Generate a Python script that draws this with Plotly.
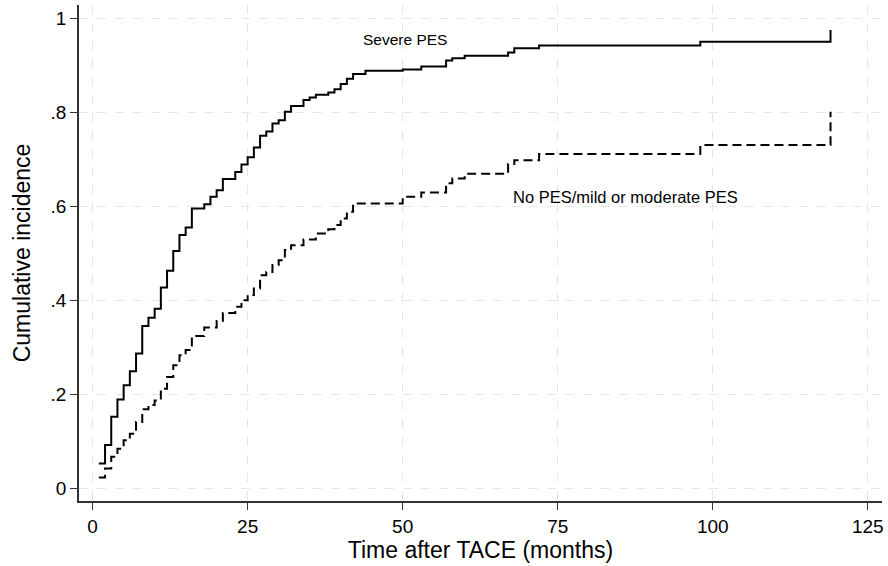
import plotly.graph_objects as go

# Severe PES
severe_t = [1, 2, 3, 4, 5, 6, 7, 8, 9, 10, 11, 12, 13, 14, 15, 16, 18, 19, 20, 21,
            23, 24, 25, 26, 27, 28, 29, 30, 31, 32, 34, 35, 36, 38, 39, 40, 41, 42,
            44, 50, 53, 57, 58, 60, 67, 68, 72, 98, 119]
severe_y = [0.053, 0.092, 0.152, 0.189, 0.219, 0.249, 0.287, 0.345, 0.363, 0.382,
            0.427, 0.463, 0.505, 0.539, 0.555, 0.595, 0.604, 0.620, 0.634, 0.658,
            0.673, 0.689, 0.704, 0.725, 0.750, 0.759, 0.776, 0.783, 0.801, 0.813,
            0.826, 0.831, 0.837, 0.842, 0.849, 0.860, 0.871, 0.881, 0.888, 0.891,
            0.897, 0.910, 0.915, 0.920, 0.927, 0.936, 0.942, 0.950, 0.975]

# No PES / mild or moderate PES
mild_t = [1, 2, 3, 4, 5, 6, 7, 8, 9, 10, 11, 12, 13, 14, 15, 16, 18, 20, 21, 23,
          24, 25, 26, 27, 28, 29, 30, 31, 32, 34, 36, 38, 39, 40, 41, 42, 50, 53,
          57, 58, 60, 67, 68, 72, 98, 119]
mild_y = [0.023, 0.042, 0.067, 0.084, 0.102, 0.116, 0.141, 0.168, 0.177, 0.187,
          0.212, 0.237, 0.262, 0.283, 0.294, 0.324, 0.342, 0.356, 0.373, 0.386,
          0.400, 0.411, 0.425, 0.453, 0.460, 0.475, 0.485, 0.507, 0.517, 0.529,
          0.542, 0.551, 0.560, 0.574, 0.588, 0.606, 0.620, 0.629, 0.649, 0.659,
          0.669, 0.690, 0.698, 0.711, 0.730, 0.801]

x_ticks = [0, 25, 50, 75, 100, 125]
y_ticks = [0, 0.2, 0.4, 0.6, 0.8, 1]
y_ticktext = ["0", ".2", ".4", ".6", ".8", "1"]

FONT = "Liberation Sans, Arial, Helvetica, sans-serif"

fig = go.Figure()
fig.add_trace(go.Scatter(x=severe_t, y=severe_y, mode="lines", line_shape="hv",
                         line=dict(color="black", width=2), showlegend=False))
fig.add_trace(go.Scatter(x=mild_t, y=mild_y, mode="lines", line_shape="hv",
                         line=dict(color="black", width=2, dash="9px,5px"),
                         showlegend=False))

fig.add_annotation(x=50.4, y=0.954, text="Severe PES", showarrow=False,
                   font=dict(family=FONT, size=15.5, color="black"))
fig.add_annotation(x=86, y=0.62, text="No PES/mild or moderate PES", showarrow=False,
                   font=dict(family=FONT, size=16.5, color="black"))

fig.update_layout(
    width=888, height=566,
    margin=dict(l=79, r=6, t=5, b=65),
    paper_bgcolor="white", plot_bgcolor="white",
    font=dict(family=FONT, size=19, color="black"),
)
fig.update_xaxes(
    range=[-2.2, 127.3], tickvals=x_ticks, ticks="outside", ticklen=7,
    tickcolor="#333", showline=True, linecolor="#333", linewidth=1.5,
    showgrid=True, gridcolor="#e6e6e6", griddash="dash", gridwidth=1.2,
    zeroline=False, automargin=False,
    title=dict(text="Time after TACE (months)", standoff=6, font=dict(size=23)),
    tickfont=dict(size=19),
)
fig.update_yaxes(
    range=[-0.027, 1.028], tickvals=y_ticks, ticktext=y_ticktext, ticks="outside",
    ticklen=7, tickcolor="#333", showline=True, linecolor="#333", linewidth=1.5,
    showgrid=True, gridcolor="#e6e6e6", griddash="dash", gridwidth=1.2,
    zeroline=False, automargin=False,
    title=dict(text="Cumulative incidence", standoff=14, font=dict(size=23)),
    tickfont=dict(size=19),
)

fig.write_html("out.html", config={"displayModeBar": False},
               post_script="document.body.style.margin='0';document.body.style.overflow='hidden';")
